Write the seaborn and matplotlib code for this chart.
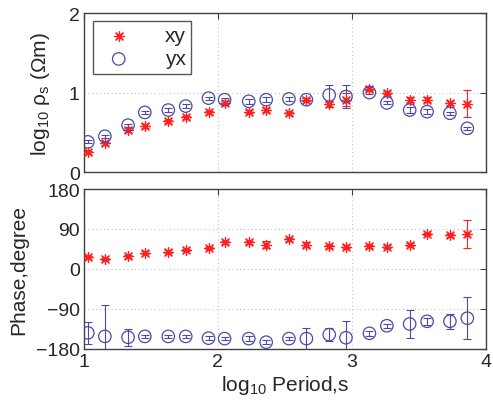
import numpy as np
import pandas as pd
import seaborn as sns
import matplotlib.pyplot as plt

# ─── DATA ─────────────────────────────────────
log_period = [1.03, 1.157, 1.33, 1.455, 1.63, 1.76, 1.93, 2.05, 2.23, 2.36,
              2.53, 2.66, 2.83, 2.955, 3.13, 3.26, 3.43, 3.56, 3.73, 3.86]

rho_xy = [0.25, 0.36, 0.53, 0.58, 0.64, 0.69, 0.75, 0.87, 0.76, 0.78,
          0.74, 0.91, 0.85, 0.91, 1.05, 1.00, 0.91, 0.91, 0.87, 0.86]
rho_xy_err = [0.02, 0.02, 0.02, 0.02, 0.02, 0.02, 0.02, 0.02, 0.02, 0.03,
              0.02, 0.02, 0.03, 0.08, 0.02, 0.02, 0.03, 0.03, 0.03, 0.17]
rho_yx = [0.38, 0.45, 0.59, 0.75, 0.78, 0.83, 0.93, 0.91, 0.89, 0.91,
          0.92, 0.91, 0.97, 0.95, 1.00, 0.87, 0.78, 0.76, 0.74, 0.55]
rho_yx_err = [0.02, 0.02, 0.02, 0.02, 0.02, 0.02, 0.02, 0.02, 0.03, 0.03,
              0.03, 0.02, 0.12, 0.15, 0.02, 0.02, 0.04, 0.03, 0.02, 0.02]

phs_xy = [26, 22, 28, 37, 39, 43, 47, 60, 60, 55,
          67, 55, 51, 50, 51, 50, 55, 79, 76, 79]
phs_xy_err = [3, 3, 3, 3, 3, 3, 3, 3, 3, 8,
              3, 6, 4, 3, 3, 3, 4, 3, 3, 32]
phs_yx = [-144, -152, -154, -152, -152, -152, -156, -157, -157, -165,
          -157, -157, -148, -155, -145, -128, -124, -118, -118, -111]
phs_yx_err = [24, 70, 19, 4, 4, 4, 4, 4, 5, 4,
              4, 24, 14, 37, 5, 4, 32, 8, 17, 47]

RED = "#ff2020"
BLUE = "#4a4aa8"


def main():
    sns.set_style("white")
    plt.rcParams['font.family'] = ['Liberation Sans', 'DejaVu Sans']
    plt.rcParams['mathtext.fontset'] = 'custom'
    plt.rcParams['mathtext.rm'] = 'Liberation Sans'
    plt.rcParams['mathtext.it'] = 'Liberation Sans'

    fig = plt.figure(figsize=(4.93, 4.14), dpi=100)
    ax1 = fig.add_axes([0.170, 0.582, 0.816, 0.384])
    ax2 = fig.add_axes([0.170, 0.155, 0.816, 0.386])

    df = pd.DataFrame({"x": log_period,
                       "rxy": rho_xy, "rxy_e": rho_xy_err,
                       "ryx": rho_yx, "ryx_e": rho_yx_err,
                       "pxy": phs_xy, "pxy_e": phs_xy_err,
                       "pyx": phs_yx, "pyx_e": phs_yx_err})

    # MATLAB-style asterisk: plus + cross
    star = (8, 2, 0)

    for ax, cxy, cyx in [(ax1, "rxy", "ryx"), (ax2, "pxy", "pyx")]:
        ax.errorbar(df["x"], df[cxy], yerr=df[cxy + "_e"], fmt="none",
                    ecolor=RED, elinewidth=0.8, capsize=3, capthick=0.8)
        ax.errorbar(df["x"], df[cyx], yerr=df[cyx + "_e"], fmt="none",
                    ecolor=BLUE, elinewidth=0.8, capsize=3, capthick=0.8)
        sns.scatterplot(data=df, x="x", y=cxy, ax=ax, marker=star,
                        s=50, color=RED, linewidth=0.9, edgecolor=RED,
                        label="xy", zorder=3)
        sns.scatterplot(data=df, x="x", y=cyx, ax=ax, marker="o",
                        s=80, facecolor="none", edgecolor=BLUE,
                        linewidth=0.9, label="yx", zorder=3)

        ax.set_xlim(1, 4)
        ax.set_xticks([1, 2, 3, 4])
        ax.grid(True, linestyle=(0, (1, 3)), color="#b8b8b8", linewidth=0.7)
        ax.tick_params(direction="in", top=True, right=True, length=4,
                       labelsize=14, color="#404040", pad=3)
        for sp in ax.spines.values():
            sp.set_color("#404040")
            sp.set_linewidth(1.0)

    # top panel
    ax1.set_ylim(0, 2)
    ax1.set_yticks([0, 1, 2])
    ax1.set_xticklabels([])
    ax1.set_xlabel("")
    ax1.set_ylabel(r"log$_{10}$ ρ$_{\rm s}$ (Ωm)", fontsize=15, labelpad=12)
    leg = ax1.legend(loc="upper left", fontsize=15, frameon=True,
                     fancybox=False, edgecolor="#303030",
                     handletextpad=1.2, borderpad=0.25, labelspacing=0.2,
                     borderaxespad=0, bbox_to_anchor=(0.022, 0.95))
    leg.get_frame().set_linewidth(1.0)

    # bottom panel
    ax2.set_ylim(-180, 180)
    ax2.set_yticks([-180, -90, 0, 90, 180])
    ax2.set_yticklabels(["\u2212180", "\u221290", "0", "90", "180"])
    ax2.set_ylabel("Phase,degree", fontsize=15, labelpad=5)
    ax2.set_xlabel(r"log$_{10}$ Period,s", fontsize=15, labelpad=2)
    if ax2.get_legend() is not None:
        ax2.get_legend().remove()

    fig.savefig("out.png", dpi=100)


if __name__ == "__main__":
    main()
